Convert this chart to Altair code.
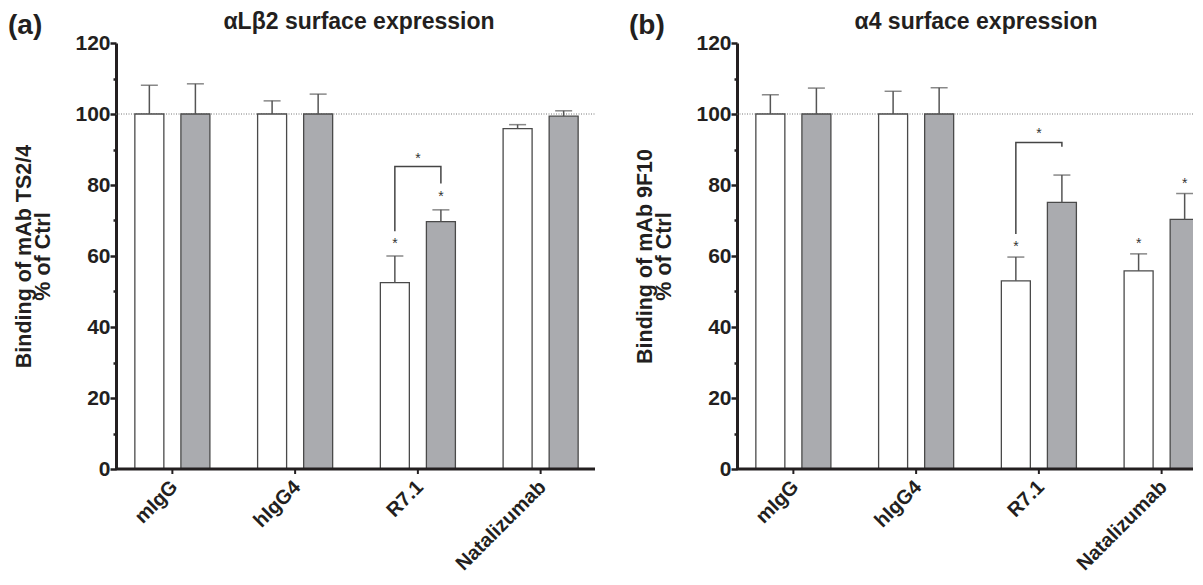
import altair as alt
import pandas as pd

# ---------------- data ----------------
categories = ["mIgG", "hIgG4", "R7.1", "Natalizumab"]
groups = ["open", "filled"]

# panel (a): alphaL beta2
a_open_mean = [100, 100, 52.5, 95.9]
a_open_err = [8.1, 3.7, 7.5, 1.1]
a_filled_mean = [100, 100, 69.7, 99.4]
a_filled_err = [8.5, 5.6, 3.3, 1.5]
a_star_cat = ["R7.1", "R7.1"]
a_star_grp = ["open", "filled"]
a_star_y = [64.2, 77.4]
a_bracket_cat = "R7.1"
a_bracket_y = [67.0, 85.2, 85.2, 80.4]
a_bracket_star_y = 88.2

# panel (b): alpha4
b_open_mean = [100, 100, 53.0, 55.8]
b_open_err = [5.4, 6.4, 6.7, 4.8]
b_filled_mean = [100, 100, 75.1, 70.3]
b_filled_err = [7.3, 7.4, 7.7, 7.3]
b_star_cat = ["R7.1", "Natalizumab", "Natalizumab"]
b_star_grp = ["open", "open", "filled"]
b_star_y = [63.5, 64.2, 81.1]
b_bracket_cat = "R7.1"
b_bracket_y = [66.2, 92.0, 92.0, 90.8]
b_bracket_star_y = 95.1

reference_level = 100

FONT = "Liberation Sans"
INK = "#231f20"
H = 426


def panel(label, title, title_x, ytitle, om, oe, fm, fe, star_cat, star_grp, star_y,
          br_cat, br_y, br_star_y, W, clip):
    rows = []
    for c, m, e in zip(categories, om, oe):
        rows.append({"category": c, "group": "open", "mean": m, "top": m + e})
    for c, m, e in zip(categories, fm, fe):
        rows.append({"category": c, "group": "filled", "mean": m, "top": m + e})
    df = pd.DataFrame(rows)

    cats = pd.DataFrame({"category": categories})
    stars = pd.DataFrame({"category": star_cat, "group": star_grp, "v": star_y})
    bracket = pd.DataFrame({
        "category": [br_cat] * 4,
        "group": ["open", "open", "filled", "filled"],
        "v": br_y,
        "o": [0, 1, 2, 3],
    })
    bstar = pd.DataFrame({"category": [br_cat], "v": [br_star_y]})
    ref = pd.DataFrame({"v": [reference_level]})
    zero = pd.DataFrame({"v": [0]})
    one = pd.DataFrame({"t": [title], "l": [label]})

    yaxis = alt.Axis(
        values=list(range(0, 121, 10)),
        labelExpr="datum.value % 20 === 0 ? datum.label : ''",
        tickSize={"condition": {"test": "datum.value % 20 === 0", "value": 6}, "value": 3},
        tickWidth=2.5, tickColor=INK,
        domainWidth=3, domainColor=INK,
        labelFont=FONT, labelFontSize=21, labelFontWeight="bold", labelColor=INK,
        labelPadding=0,
        titleFont=FONT, titleFontSize=21.5, titleFontWeight="bold", titleColor=INK,
        titlePadding=20, titleLineHeight=19,
        grid=False,
    )
    yscale = alt.Scale(domain=[0, 120], nice=False, zero=True)

    def Y(field):
        return alt.Y(field, type="quantitative", scale=yscale, axis=yaxis, title=ytitle)

    xscale = alt.Scale(range=[-5, 486], paddingInner=0, paddingOuter=0)
    X = alt.X("category:N", sort=categories, axis=None, scale=xscale)
    XL = alt.X("category:N", sort=categories, axis=None, scale=xscale, bandPosition=0.46)
    XO = alt.XOffset("group:N", sort=groups,
                     scale=alt.Scale(paddingInner=0, paddingOuter=0.333))

    l_ref = alt.Chart(ref).mark_rule(color="#777", strokeDash=[1, 1.5], strokeWidth=1).encode(
        y=Y("v"), x=alt.value(0), x2=alt.value(W))
    l_bar = alt.Chart(df).mark_bar(size=29, stroke="#4a4a4a", strokeWidth=1.3, clip=clip).encode(
        x=X, xOffset=XO, y=Y("mean"),
        fill=alt.Fill("group:N", scale=alt.Scale(domain=groups, range=["#ffffff", "#aaabaf"]), legend=None),
    )
    l_err = alt.Chart(df).mark_rule(color="#555", strokeWidth=1.5, clip=clip).encode(
        x=X, xOffset=XO, y=Y("mean"), y2="top:Q")
    l_cap = alt.Chart(df).mark_tick(color="#555", thickness=1.5, size=17, clip=clip).encode(
        x=X, xOffset=XO, y=Y("top"))
    l_star = alt.Chart(stars).mark_text(text="*", fontSize=14, font=FONT, color="#333",
                                        baseline="middle", dy=3, clip=clip).encode(
        x=X, xOffset=XO, y=Y("v"))
    l_br = alt.Chart(bracket).mark_line(color="#444", strokeWidth=1.5).encode(
        x=X, xOffset=XO, y=Y("v"), order="o:Q")
    l_bstar = alt.Chart(bstar).mark_text(text="*", fontSize=14, font=FONT, color="#333",
                                         baseline="middle", dy=3).encode(
        x=X, y=Y("v"))
    l_zero = alt.Chart(zero).mark_rule(color=INK, strokeWidth=3).encode(
        y=Y("v"), x=alt.value(0), x2=alt.value(W))
    # category axis: ticks and rotated labels
    l_xtick = alt.Chart(cats).mark_rule(color=INK, strokeWidth=2).encode(
        x=X, y=alt.value(H), y2=alt.value(H + 5))
    l_xlab = alt.Chart(cats).mark_text(font=FONT, fontSize=20, fontWeight="bold", color=INK,
                                       angle=315, align="right", baseline="top").encode(
        x=XL, y=alt.value(H + 8), text="category:N")
    l_title = alt.Chart(one).mark_text(font=FONT, fontSize=23, fontWeight="bold", color=INK,
                                       baseline="top", align="center").encode(
        text="t:N", x=alt.value(title_x), y=alt.value(-32))
    l_label = alt.Chart(one).mark_text(font=FONT, fontSize=28, fontWeight="bold", color=INK,
                                       baseline="top", align="left").encode(
        text="l:N", x=alt.value(-108), y=alt.value(-31))

    return alt.layer(l_ref, l_bar, l_err, l_cap, l_star, l_br, l_bstar, l_zero,
                     l_xtick, l_xlab, l_title, l_label).properties(width=W, height=H)


pa = panel("(a)", "αLβ2 surface expression", 243, ["Binding of mAb TS2/4", "% of Ctrl"],
           a_open_mean, a_open_err, a_filled_mean, a_filled_err,
           a_star_cat, a_star_grp, a_star_y, a_bracket_cat, a_bracket_y, a_bracket_star_y,
           479, False)
pb = panel("(b)", "α4 surface expression", 239, ["Binding of mAb 9F10", "% of Ctrl"],
           b_open_mean, b_open_err, b_filled_mean, b_filled_err,
           b_star_cat, b_star_grp, b_star_y, b_bracket_cat, b_bracket_y, b_bracket_star_y,
           456, True)

chart = alt.hconcat(pa, pb, spacing=32).properties(
    padding={"left": 0, "top": 3, "right": 0, "bottom": 0}
).configure_view(stroke=None)

chart.save("out.html", embed_options={"renderer": "svg", "actions": False})
